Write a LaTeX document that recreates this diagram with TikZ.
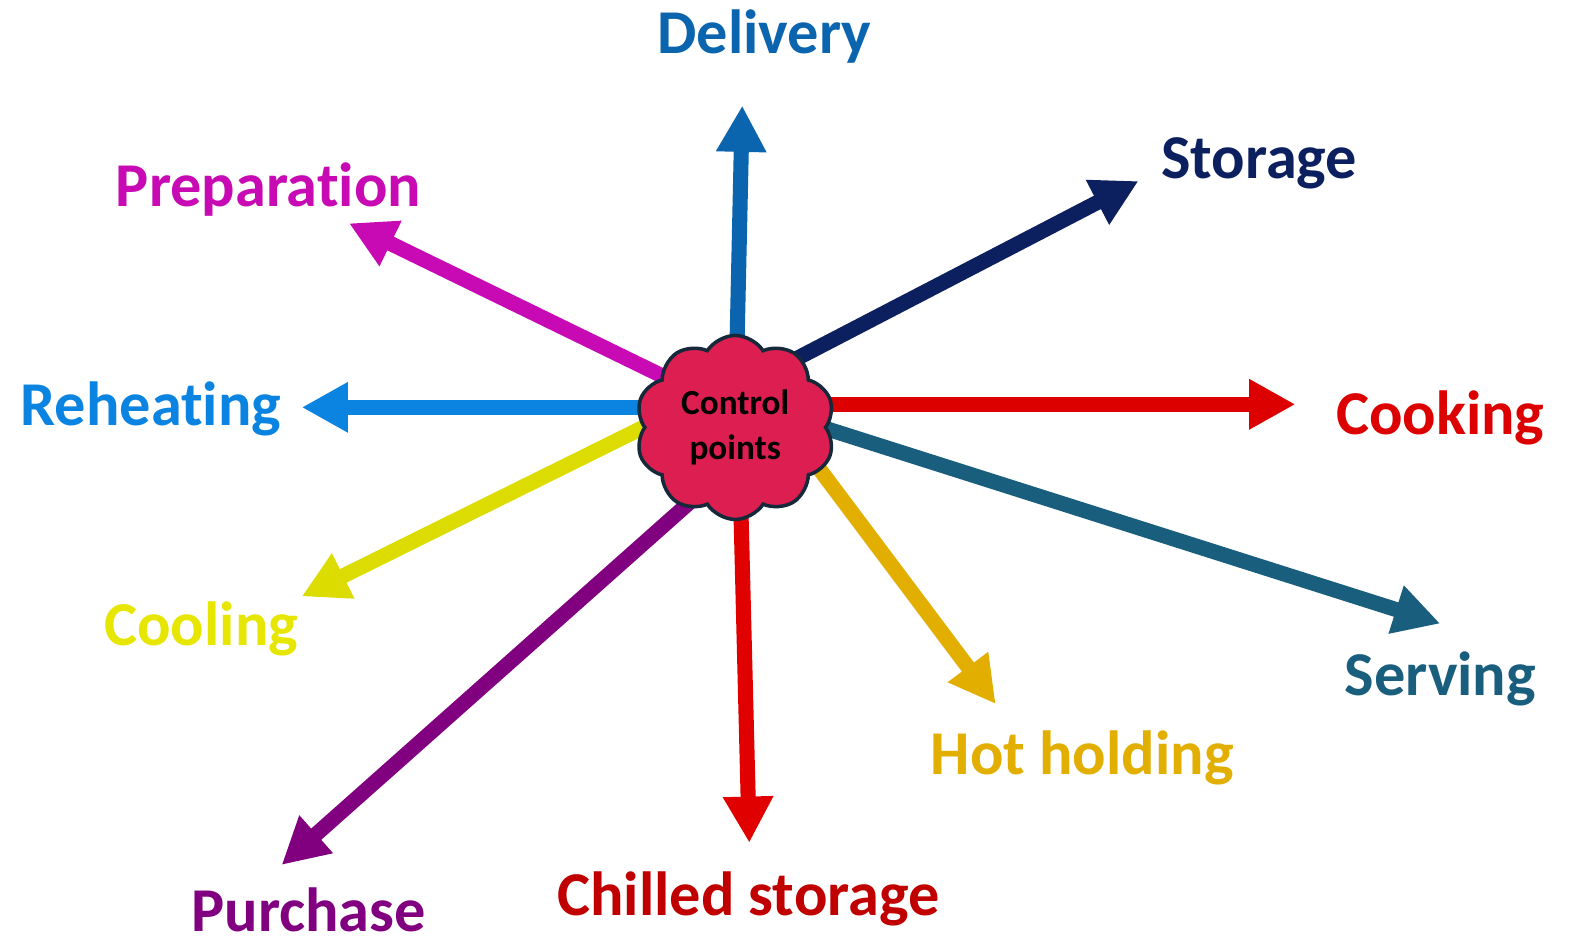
\documentclass[tikz,border=0pt]{standalone}
\usepackage{fontspec}
\setmainfont{Carlito}[Ligatures=NoCommon]
\usetikzlibrary{arrows.meta,shapes.symbols,backgrounds}
\definecolor{cDel}{HTML}{0B64AE}
\definecolor{cSto}{HTML}{0C1F5E}
\definecolor{cPre}{HTML}{C80AB4}
\definecolor{cReh}{HTML}{0A84E0}
\definecolor{cCook}{HTML}{DC0000}
\definecolor{cCool}{HTML}{DCDC00}
\definecolor{cCoolT}{HTML}{E6E600}
\definecolor{cSer}{HTML}{1A5E7E}
\definecolor{cHot}{HTML}{E2AE00}
\definecolor{cChi}{HTML}{C00000}
\definecolor{cChiA}{HTML}{E00000}
\definecolor{cPur}{HTML}{800080}
\definecolor{cCloud}{HTML}{DC1E50}
\definecolor{cEdge}{HTML}{15293A}
\begin{document}
\begin{tikzpicture}[x=1pt,y=-1pt,
  ray/.style={line width=15pt,-{Triangle[width=47pt,length=46pt]}},
  lbl/.style={font=\fontsize{62}{62}\selectfont\bfseries,anchor=base,inner sep=0pt}]
\useasboundingbox (0,0) rectangle (1568,932);
\node[cloud,cloud puffs=10,cloud puff arc=115,aspect=1.1,minimum width=198pt,minimum height=183pt,
  fill=cCloud,draw=cEdge,line width=3.5pt,inner sep=0pt,align=center,
  font=\fontsize{35}{45}\selectfont\bfseries] (cp) at (731,425) {Control\\points};
\coordinate (tDel) at (738,105);
\coordinate (tSto) at (1132,180);
\coordinate (tPre) at (347,222);
\coordinate (tReh) at (300,405);
\coordinate (tCook) at (1288,402);
\coordinate (tCool) at (300,593);
\coordinate (tSer) at (1432,620);
\coordinate (tHot) at (990,700);
\coordinate (tChi) at (745,838);
\coordinate (tPur) at (280,860);
\begin{scope}[on background layer]
\draw[ray,cDel] ([shift={(0,0)}]cp.center) -- (tDel);
\draw[ray,cSto] ([shift={(39,-57)}]cp.center) -- (tSto);
\draw[ray,cPre] ([shift={(-31,-31)}]cp.center) -- (tPre);
\draw[ray,cReh] ([shift={(-31,-20)}]cp.center) -- (tReh);
\draw[ray,cCook] ([shift={(29,-23)}]cp.center) -- (tCook);
\draw[ray,cCool] ([shift={(-41,-25)}]cp.center) -- (tCool);
\draw[ray,cSer] ([shift={(49,-12)}]cp.center) -- (tSer);
\draw[ray,cHot] ([shift={(49,-5)}]cp.center) -- (tHot);
\draw[ray,cChiA] ([shift={(4,15)}]cp.center) -- (tChi);
\draw[ray,cPur] ([shift={(-11,44)}]cp.center) -- (tPur);
\end{scope}
\node[lbl,text=cDel] (lDel) at (760,53) {Delivery};
\node[lbl,text=cSto] (lSto) at (1252,177) {Storage};
\node[lbl,text=cPre] (lPre) at (267,205) {Preparation};
\node[lbl,text=cReh] (lReh) at (150,423) {Reheating};
\node[lbl,text=cCook] (lCook) at (1432,432) {Cooking};
\node[lbl,text=cCoolT] (lCool) at (200,642) {Cooling};
\node[lbl,text=cSer] (lSer) at (1432,692) {Serving};
\node[lbl,text=cHot] (lHot) at (1076,770) {Hot holding};
\node[lbl,text=cChi] (lChi) at (744,910) {Chilled storage};
\node[lbl,text=cPur] (lPur) at (307,926) {Purchase};
\end{tikzpicture}
\end{document}
